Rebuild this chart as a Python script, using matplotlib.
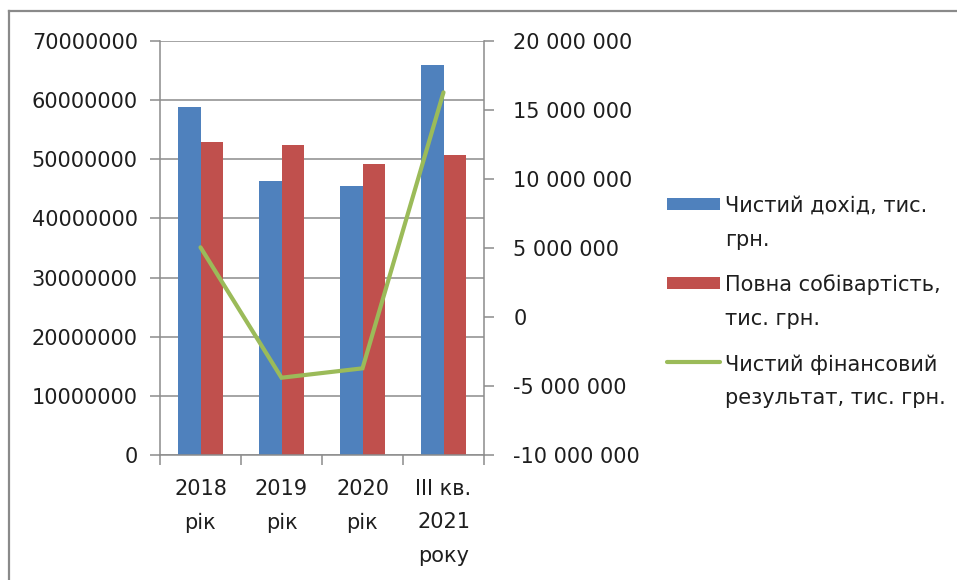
import numpy as np
import matplotlib
matplotlib.use("Agg")
import matplotlib.pyplot as plt
from matplotlib.patches import Rectangle
from matplotlib.lines import Line2D
from matplotlib.container import BarContainer
from matplotlib.ticker import FuncFormatter, MultipleLocator
from matplotlib.legend_handler import (HandlerPatch, HandlerLine2D,
                                       update_from_first_child)

# ---- data -------------------------------------------------------------
categories = ["2018\nрік", "2019\nрік", "2020\nрік", "III кв.\n2021\nроку"]
net_revenue = [58.8e6, 46.4e6, 45.5e6, 65.9e6]
full_cost = [52.9e6, 52.5e6, 49.2e6, 50.7e6]
net_result = [5.05e6, -4.40e6, -3.72e6, 16.28e6]
series_names = [
    "Чистий дохід, тис.\nгрн.",
    "Повна собівартість,\nтис. грн.",
    "Чистий фінансовий\nрезультат, тис. грн.",
]

# ---- style ------------------------------------------------------------
BLUE = "#4F81BD"
RED = "#C0504D"
GREEN = "#9BBB59"
GRID = "#8C8C8C"
TEXT = "#1E1E1E"
FS = 15
LINESP = 1.85

plt.rcParams["font.family"] = ["DejaVu Sans"]
plt.rcParams["text.color"] = TEXT

fig = plt.figure(figsize=(9.57, 5.80), dpi=100)
W, H = 957, 580
ax = fig.add_axes([160 / W, 1 - 455 / H, (484 - 160) / W, (455 - 41) / H])
ax2 = ax.twinx()

x = np.arange(len(categories))
bw = 0.28
b1 = ax.bar(x - bw / 2, net_revenue, bw, color=BLUE, zorder=2,
            label=series_names[0])
b2 = ax.bar(x + bw / 2, full_cost, bw, color=RED, zorder=2,
            label=series_names[1])
(ln,) = ax2.plot(x, net_result, color=GREEN, lw=3.0, solid_capstyle="round",
                 solid_joinstyle="miter", label=series_names[2])

# left axis
ax.set_xlim(-0.5, len(categories) - 0.5)
ax.set_ylim(0, 70e6)
ax.yaxis.set_major_locator(MultipleLocator(10e6))
ax.yaxis.set_major_formatter(FuncFormatter(lambda v, p: f"{v:.0f}"))
ax.set_axisbelow(True)
ax.grid(axis="y", color=GRID, lw=1.1)
ax.tick_params(axis="y", direction="out", length=7, width=1.1, color=GRID,
               pad=9, labelsize=FS, labelcolor=TEXT)

# categories: tick marks between groups, labels centred under each group
ax.set_xticks(np.arange(-0.5, len(categories), 1.0))
ax.set_xticklabels([])
ax.set_xticks(x, minor=True)
ax.set_xticklabels(categories, minor=True)
ax.tick_params(axis="x", which="major", direction="out", length=7, width=1.1,
               color=GRID)
ax.tick_params(axis="x", which="minor", length=0, pad=17, labelsize=FS,
               labelcolor=TEXT)
for t in ax.get_xticklabels(minor=True):
    t.set_linespacing(LINESP)
    t.set_verticalalignment("top")

# right axis
ax2.set_ylim(-10e6, 20e6)
ax2.yaxis.set_major_locator(MultipleLocator(5e6))
ax2.yaxis.set_major_formatter(
    FuncFormatter(lambda v, p: f"{v:,.0f}".replace(",", " ")))
ax2.tick_params(axis="y", direction="out", length=7, width=1.1, color=GRID,
                pad=14, labelsize=FS, labelcolor=TEXT)

for a in (ax, ax2):
    a.spines["top"].set_visible(False)
ax.spines["right"].set_visible(False)
ax2.spines["left"].set_visible(False)
ax2.spines["bottom"].set_visible(False)
for s in (ax.spines["left"], ax.spines["bottom"], ax2.spines["right"]):
    s.set_color(GRID)
    s.set_linewidth(1.1)


# ---- legend: key sits beside the first line of each two-line label ----
def _raise_pts(fontsize):
    return 0.5 * LINESP * 0.866 * fontsize + 2.0


def key_patch(legend, orig_handle, xdescent, ydescent, width, height, fontsize):
    h = 0.58 * fontsize
    yc = -ydescent + height / 2 + _raise_pts(fontsize)
    return Rectangle((-xdescent, yc - h / 2), width, h)


class RaisedLine(HandlerLine2D):
    def create_artists(self, legend, orig_handle, xdescent, ydescent, width,
                       height, fontsize, trans):
        arts = super().create_artists(legend, orig_handle, xdescent, ydescent,
                                      width, height, fontsize, trans)
        for a in arts:
            a.set_ydata(np.asarray(a.get_ydata()) + _raise_pts(fontsize))
        return arts


leg = fig.legend(
    [b1, b2, ln], series_names,
    loc="upper left", bbox_to_anchor=(667 / W, 1 - 196 / H),
    frameon=False, fontsize=FS, handlelength=2.55, handletextpad=0.25,
    labelspacing=1.2, borderpad=0, borderaxespad=0,
    handler_map={BarContainer: HandlerPatch(patch_func=key_patch,
                                            update_func=update_from_first_child),
                 Line2D: RaisedLine()},
)
for t in leg.get_texts():
    t.set_linespacing(LINESP)
    t.set_color(TEXT)

# chart-area frame (top and left edges)
fig.add_artist(Line2D([9 / W, 1.0], [1 - 10.5 / H, 1 - 10.5 / H],
                      transform=fig.transFigure, color="#8A8A8A", lw=1.6))
fig.add_artist(Line2D([9 / W, 9 / W], [0.0, 1 - 10.5 / H],
                      transform=fig.transFigure, color="#8A8A8A", lw=1.6))

fig.savefig("out.png", dpi=100, facecolor="white")
